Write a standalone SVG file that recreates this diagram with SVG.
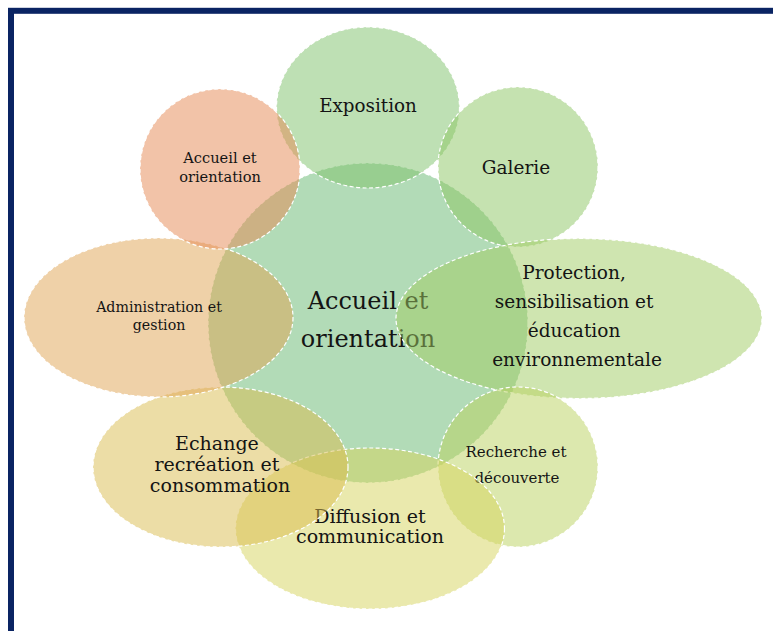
<svg xmlns="http://www.w3.org/2000/svg" width="773" height="631" viewBox="0 0 773 631">
  <style>
    .blob { fill-opacity: 0.5; stroke: #ffffff; stroke-width: 1.2; stroke-dasharray: 4 2.5; }
    .lbl { font-family: "DejaVu Serif", "Liberation Serif", serif; fill: #141414; text-anchor: middle; }
  </style>

  <rect x="0" y="0" width="773" height="631" fill="#ffffff"/>
  <!-- navy frame, right and bottom sides run off the page -->
  <rect x="11" y="10.8" width="800" height="700" fill="none" stroke="#0a2463" stroke-width="6"/>

  <!-- hub -->
  <g id="hub">
    <circle class="blob" cx="368" cy="323" r="160" fill="#65b76f"/>
    <text class="lbl" font-size="24"><tspan x="368" y="309">Accueil et</tspan><tspan x="368" y="347">orientation</tspan></text>
  </g>

  <!-- satellites, drawn clockwise from the top -->
  <g id="exposition">
    <ellipse class="blob" cx="368" cy="107.5" rx="91.5" ry="80.5" fill="#7dc169"/>
    <text class="lbl" font-size="18.3" x="368" y="112">Exposition</text>
  </g>

  <g id="galerie">
    <circle class="blob" cx="518" cy="167" r="80" fill="#8bc561"/>
    <text class="lbl" font-size="18.5" x="516" y="174">Galerie</text>
  </g>

  <g id="protection">
    <ellipse class="blob" cx="579" cy="318.5" rx="183" ry="80" fill="#9fcb61"/>
    <text class="lbl" font-size="18.5">
      <tspan x="577" y="279">Protection,</tspan>
      <tspan x="577" y="308">sensibilisation et</tspan>
      <tspan x="577" y="337">éducation</tspan>
      <tspan x="577" y="366">environnementale</tspan>
    </text>
  </g>

  <g id="recherche">
    <circle class="blob" cx="518" cy="467" r="80" fill="#b9d15d"/>
    <text class="lbl" font-size="15"><tspan x="516" y="457">Recherche et</tspan><tspan x="517" y="483">découverte</tspan></text>
  </g>

  <g id="diffusion">
    <ellipse class="blob" cx="370" cy="528.5" rx="134.5" ry="80.5" fill="#d5d35b"/>
    <text class="lbl" font-size="19"><tspan x="370" y="523">Diffusion et</tspan><tspan x="370" y="543">communication</tspan></text>
  </g>

  <g id="echange">
    <ellipse class="blob" cx="220.5" cy="467" rx="127.5" ry="80" fill="#d9bb4d"/>
    <text class="lbl" font-size="19">
      <tspan x="220" y="450">Echange</tspan>
      <tspan x="220" y="471">recréation et</tspan>
      <tspan x="220" y="492">consommation</tspan>
    </text>
  </g>

  <g id="administration">
    <ellipse class="blob" cx="158.5" cy="317.5" rx="134.5" ry="79.5" fill="#dfa351"/>
    <text class="lbl" font-size="14.2"><tspan x="159" y="312">Administration et</tspan><tspan x="159" y="330">gestion</tspan></text>
  </g>

  <g id="accueil">
    <circle class="blob" cx="220" cy="169" r="80" fill="#e58751"/>
    <text class="lbl" font-size="14.6"><tspan x="220" y="163">Accueil et</tspan><tspan x="220" y="182">orientation</tspan></text>
  </g>
</svg>
